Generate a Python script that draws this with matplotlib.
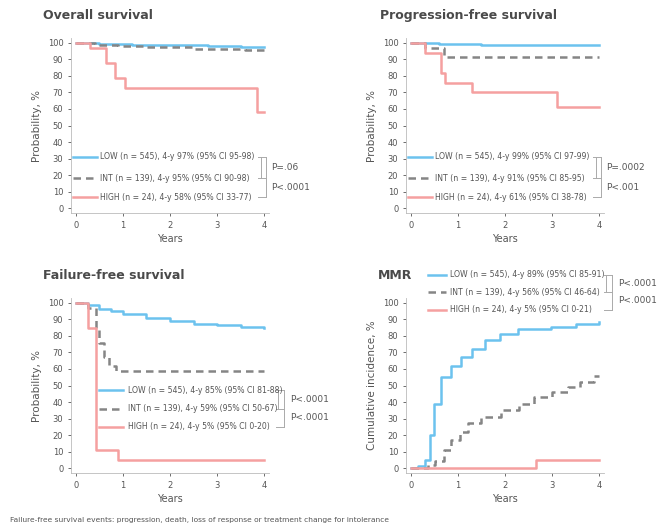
import matplotlib
matplotlib.use('Agg')
import matplotlib.pyplot as plt

# ---- data ----
groups = ['LOW', 'INT', 'HIGH']
legend_os = ['LOW (n = 545), 4-y 97% (95% CI 95-98)',
             'INT (n = 139), 4-y 95% (95% CI 90-98)',
             'HIGH (n = 24), 4-y 58% (95% CI 33-77)']
legend_pfs = ['LOW (n = 545), 4-y 99% (95% CI 97-99)',
              'INT (n = 139), 4-y 91% (95% CI 85-95)',
              'HIGH (n = 24), 4-y 61% (95% CI 38-78)']
legend_ffs = ['LOW (n = 545), 4-y 85% (95% CI 81-88)',
              'INT (n = 139), 4-y 59% (95% CI 50-67)',
              'HIGH (n = 24), 4-y 5% (95% CI 0-20)']
legend_mmr = ['LOW (n = 545), 4-y 89% (95% CI 85-91)',
              'INT (n = 139), 4-y 56% (95% CI 46-64)',
              'HIGH (n = 24), 4-y 5% (95% CI 0-21)']
pvals_os = ['P=.06', 'P<.0001']
pvals_pfs = ['P=.0002', 'P<.001']
pvals_ffs = ['P<.0001', 'P<.0001']
pvals_mmr = ['P<.0001', 'P<.0001']

os_low_t = [0, 0.5, 1.2, 2.0, 2.8, 3.5, 4.0]
os_low_s = [100, 99.5, 99, 98.5, 98, 97.5, 97.5]
os_int_t = [0, 0.4, 0.9, 1.5, 2.5, 3.6, 4.0]
os_int_s = [100, 99, 98, 97.5, 96.5, 95.5, 95.5]
os_high_t = [0, 0.3, 0.65, 0.83, 1.04, 3.85, 4.0]
os_high_s = [100, 97, 88, 79, 73, 58, 58]

pfs_low_t = [0, 0.6, 1.5, 4.0]
pfs_low_s = [100, 99.5, 99, 99]
pfs_int_t = [0, 0.3, 0.7, 4.0]
pfs_int_s = [100, 97, 91.5, 91.5]
pfs_high_t = [0, 0.3, 0.65, 0.72, 1.3, 3.1, 4.0]
pfs_high_s = [100, 94, 82, 76, 70, 61, 61]

ffs_low_t = [0, 0.25, 0.5, 0.75, 1.0, 1.5, 2.0, 2.5, 3.0, 3.5, 4.0]
ffs_low_s = [100, 98.5, 96.5, 95, 93.5, 91, 89, 87.5, 86.5, 85.5, 85]
ffs_int_t = [0, 0.27, 0.43, 0.5, 0.6, 0.7, 0.85, 4.0]
ffs_int_s = [100, 97, 84, 76, 67, 62, 59, 59]
ffs_high_t = [0, 0.27, 0.43, 0.9, 4.0]
ffs_high_s = [100, 85, 11, 5, 5]

mmr_low_t = [0, 0.15, 0.3, 0.4, 0.5, 0.65, 0.85, 1.07, 1.3, 1.57, 1.9, 2.27, 2.98, 3.5, 4.0]
mmr_low_v = [0, 1, 5, 20, 39, 55, 62, 67, 72, 77.5, 81, 84, 85.5, 87, 88.5]
mmr_int_t = [0, 0.37, 0.51, 0.7, 0.86, 1.05, 1.21, 1.5, 1.92, 2.3, 2.62, 3.0, 3.33, 3.6, 3.89, 4.0]
mmr_int_v = [0, 2, 4, 11, 17, 22, 27, 31, 35, 39, 43, 46, 49, 52, 56, 56]
mmr_high_t = [0, 2.65, 4.0]
mmr_high_v = [0, 5, 5]

years = [0, 1, 2, 3, 4]
yticks = list(range(0, 101, 10))

colors = ['#6cc2ee', '#858585', '#f5a0a0']
styles = ['-', (0, (3, 2)), '-']
txt = '#555555'

fig = plt.figure(figsize=(6.7, 5.31), dpi=100)


def panel(rect, title, title_xy, ylabel, curves, labels, pvals, leg):
  ax = fig.add_axes(rect)
  for (t, s), c, ls in zip(curves, colors, styles):
    ax.step(t, s, where='post', color=c, linestyle=ls, lw=1.8)
  ax.set_xlim(-0.1, 4.1)
  ax.set_ylim(-3, 103)
  ax.set_xticks(years)
  ax.set_yticks(yticks)
  ax.tick_params(labelsize=6, colors=txt, length=2, width=0.6)
  for sp in ['top', 'right']:
    ax.spines[sp].set_visible(False)
  for sp in ['left', 'bottom']:
    ax.spines[sp].set_color('#bbbbbb')
    ax.spines[sp].set_linewidth(0.6)
  ax.set_xlabel('Years', fontsize=7, color=txt, labelpad=3)
  ax.set_ylabel(ylabel, fontsize=7.5, color=txt, labelpad=4)
  fig.text(title_xy[0], title_xy[1], title, fontsize=9, fontweight='bold', color='#4a4a4a')
  # legend rows with brackets
  x0, x1, xt, rows, xb, xp = leg
  for lab, y, c, ls in zip(labels, rows, colors, styles):
    ax.plot([x0, x1], [y, y], color=c, linestyle=ls, lw=1.8, clip_on=False)
    ax.text(xt, y, lab, fontsize=5.6, color=txt, va='center', clip_on=False)
  kw = dict(color='#aaaaaa', lw=0.7, clip_on=False)
  ax.plot([xb, xb], [rows[0], rows[1]], **kw)
  ax.plot([xb + 0.12, xb + 0.12], [rows[0], rows[2]], **kw)
  for y in rows:
    ax.plot([xb - 0.05, xb + 0.12], [y, y], **kw)
  ax.text(xp, (rows[0] + rows[1]) / 2, pvals[0], fontsize=6.5, color=txt, va='center', clip_on=False)
  ax.text(xp, (rows[1] + rows[2]) / 2, pvals[1], fontsize=6.5, color=txt, va='center', clip_on=False)
  return ax


W, H = 670.0, 531.0
top_rect = lambda x: [x / W, (H - 213) / H, 198 / W, 175 / H]
bot_rect = lambda x: [x / W, (H - 473) / H, 198 / W, 175 / H]

panel(top_rect(71), 'Overall survival', (43 / W, 1 - 19 / H), 'Probability, %',
      [(os_low_t, os_low_s), (os_int_t, os_int_s), (os_high_t, os_high_s)],
      legend_os, pvals_os, (-0.06, 0.45, 0.52, [31, 18, 6.5], 3.92, 4.15))
panel(top_rect(406), 'Progression-free survival', (380 / W, 1 - 19 / H), 'Probability, %',
      [(pfs_low_t, pfs_low_s), (pfs_int_t, pfs_int_s), (pfs_high_t, pfs_high_s)],
      legend_pfs, pvals_pfs, (-0.06, 0.45, 0.52, [31, 18, 6.5], 3.92, 4.15))
panel(bot_rect(71), 'Failure-free survival', (43 / W, 1 - 279 / H), 'Probability, %',
      [(ffs_low_t, ffs_low_s), (ffs_int_t, ffs_int_s), (ffs_high_t, ffs_high_s)],
      legend_ffs, pvals_ffs, (0.5, 1.0, 1.1, [47, 36, 25], 4.3, 4.55))
panel(bot_rect(406), 'MMR', (378 / W, 1 - 279 / H), 'Cumulative incidence, %',
      [(mmr_low_t, mmr_low_v), (mmr_int_t, mmr_int_v), (mmr_high_t, mmr_high_v)],
      legend_mmr, pvals_mmr, (0.36, 0.75, 0.83, [117, 106.5, 96], 4.15, 4.4))

fig.text(10 / W, 1 - 522 / H,
         'Failure-free survival events: progression, death, loss of response or treatment change for intolerance',
         fontsize=5.4, color=txt)

fig.savefig('out.png', dpi=100)
